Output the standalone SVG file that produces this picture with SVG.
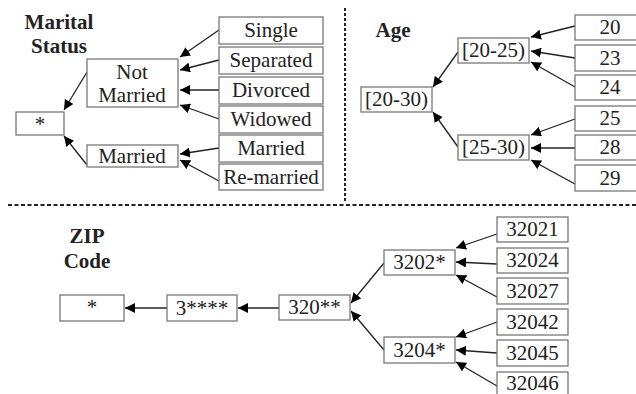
<svg xmlns="http://www.w3.org/2000/svg" width="636" height="394" viewBox="0 0 636 394">
<style>
.b{fill:#fff;stroke:#777;stroke-width:1.3}
.t{font-family:"Liberation Serif","Times New Roman",serif;font-size:21px;fill:#222;text-anchor:middle}
.h{font-family:"Liberation Serif","Times New Roman",serif;font-size:21px;font-weight:bold;fill:#222;text-anchor:middle}
.c line{stroke:#222;stroke-width:1.3;marker-end:url(#a)}
</style>
<defs>
<marker id="a" markerUnits="userSpaceOnUse" markerWidth="10" markerHeight="10" refX="10" refY="5" orient="auto">
<path d="M0,0 L10,5 L0,10 z" fill="#000"/>
</marker>
</defs>
<rect width="636" height="394" fill="#fff"/>
<g id="dividers" fill="none" stroke="#222" stroke-width="2">
<line x1="345" y1="8" x2="345" y2="203" stroke-dasharray="3,2"/>
<line x1="8" y1="205" x2="636" y2="205" stroke-dasharray="4,2.5"/>
</g>
<g id="titles">
<text class="h" x="59" y="29">Marital</text>
<text class="h" x="59" y="53">Status</text>
<text class="h" x="393" y="37">Age</text>
<text class="h" x="87" y="243">ZIP</text>
<text class="h" x="87" y="268">Code</text>
</g>
<g class="c" id="connectors">
<line x1="219" y1="30" x2="180" y2="57"/>
<line x1="219" y1="60" x2="180" y2="70"/>
<line x1="219" y1="90" x2="180" y2="90"/>
<line x1="219" y1="119" x2="180" y2="105"/>
<line x1="219" y1="148" x2="180" y2="154"/>
<line x1="219" y1="181" x2="180" y2="160"/>
<line x1="87" y1="72" x2="64" y2="110"/>
<line x1="87" y1="165" x2="64" y2="136"/>
<line x1="575" y1="26" x2="531" y2="37"/>
<line x1="575" y1="58" x2="531" y2="51"/>
<line x1="575" y1="87" x2="531" y2="62"/>
<line x1="458" y1="52" x2="433" y2="87"/>
<line x1="458" y1="147" x2="433" y2="112"/>
<line x1="575" y1="119" x2="531" y2="135"/>
<line x1="575" y1="148" x2="531" y2="148"/>
<line x1="575" y1="184" x2="531" y2="160"/>
<line x1="167" y1="308" x2="125" y2="308"/>
<line x1="279" y1="308" x2="238" y2="308"/>
<line x1="384" y1="263" x2="351" y2="303"/>
<line x1="384" y1="350" x2="351" y2="311"/>
<line x1="497" y1="234" x2="456" y2="248"/>
<line x1="497" y1="264" x2="456" y2="262"/>
<line x1="497" y1="297" x2="456" y2="275"/>
<line x1="497" y1="322" x2="456" y2="337"/>
<line x1="497" y1="353" x2="456" y2="350"/>
<line x1="497" y1="386" x2="456" y2="362"/>
</g>
<g id="ms-root"><rect class="b" x="16" y="112" width="48" height="23"/><text class="t" x="40" y="131">*</text></g>
<g id="ms-notmarried"><rect class="b" x="87" y="59" width="91" height="48"/><text class="t" x="132" y="79">Not</text><text class="t" x="132" y="102">Married</text></g>
<g id="ms-married"><rect class="b" x="87" y="145" width="91" height="22"/><text class="t" x="132" y="163">Married</text></g>
<g id="ms-single"><rect class="b" x="219" y="17" width="104" height="27"/><text class="t" x="271" y="37">Single</text></g>
<g id="ms-separated"><rect class="b" x="219" y="47" width="104" height="27"/><text class="t" x="271" y="67">Separated</text></g>
<g id="ms-divorced"><rect class="b" x="219" y="77" width="104" height="27"/><text class="t" x="271" y="97">Divorced</text></g>
<g id="ms-widowed"><rect class="b" x="219" y="106" width="104" height="27"/><text class="t" x="271" y="126">Widowed</text></g>
<g id="ms-married2"><rect class="b" x="219" y="135" width="104" height="27"/><text class="t" x="271" y="155">Married</text></g>
<g id="ms-remarried"><rect class="b" x="219" y="164" width="104" height="26"/><text class="t" x="271" y="184">Re-married</text></g>
<g id="age-root"><rect class="b" x="361" y="87" width="71" height="25"/><text class="t" x="396.5" y="106">[20-30)</text></g>
<g id="age-2025"><rect class="b" x="458" y="38" width="71" height="25"/><text class="t" x="493.5" y="57">[20-25)</text></g>
<g id="age-2530"><rect class="b" x="458" y="135" width="71" height="25"/><text class="t" x="493.5" y="154">[25-30)</text></g>
<g id="age-20"><rect class="b" x="575" y="15" width="70" height="25"/><text class="t" x="610" y="34">20</text></g>
<g id="age-23"><rect class="b" x="575" y="45" width="70" height="26"/><text class="t" x="610" y="65">23</text></g>
<g id="age-24"><rect class="b" x="575" y="75" width="70" height="25"/><text class="t" x="610" y="94">24</text></g>
<g id="age-25"><rect class="b" x="575" y="106" width="70" height="25"/><text class="t" x="610" y="125">25</text></g>
<g id="age-28"><rect class="b" x="575" y="135" width="70" height="25"/><text class="t" x="610" y="154">28</text></g>
<g id="age-29"><rect class="b" x="575" y="165" width="70" height="26"/><text class="t" x="610" y="185">29</text></g>
<g id="zip-root"><rect class="b" x="60" y="295" width="64" height="26"/><text class="t" x="92" y="314">*</text></g>
<g id="zip-3"><rect class="b" x="167" y="295" width="70" height="26"/><text class="t" x="202" y="315">3****</text></g>
<g id="zip-320"><rect class="b" x="279" y="295" width="71" height="25"/><text class="t" x="314.5" y="314">320**</text></g>
<g id="zip-3202"><rect class="b" x="384" y="250" width="71" height="25"/><text class="t" x="419.5" y="269">3202*</text></g>
<g id="zip-3204"><rect class="b" x="384" y="337" width="71" height="26"/><text class="t" x="419.5" y="357">3204*</text></g>
<g id="zip-32021"><rect class="b" x="497" y="217" width="71" height="25"/><text class="t" x="532.5" y="236">32021</text></g>
<g id="zip-32024"><rect class="b" x="497" y="248" width="71" height="25"/><text class="t" x="532.5" y="267">32024</text></g>
<g id="zip-32027"><rect class="b" x="497" y="278" width="71" height="26"/><text class="t" x="532.5" y="298">32027</text></g>
<g id="zip-32042"><rect class="b" x="497" y="309" width="71" height="26"/><text class="t" x="532.5" y="329">32042</text></g>
<g id="zip-32045"><rect class="b" x="497" y="340" width="71" height="26"/><text class="t" x="532.5" y="360">32045</text></g>
<g id="zip-32046"><rect class="b" x="497" y="372" width="71" height="26"/><text class="t" x="532.5" y="390">32046</text></g>
</svg>
